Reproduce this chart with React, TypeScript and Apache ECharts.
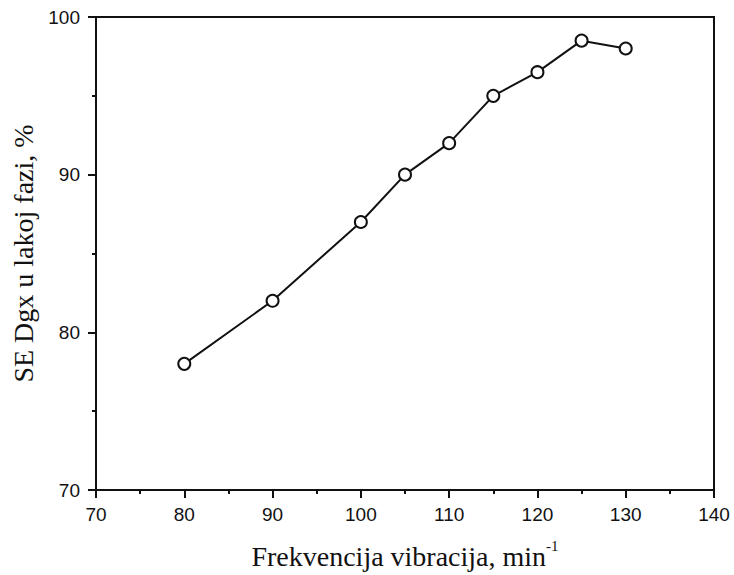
import React, { useEffect, useRef } from "react";
import * as echarts from "echarts";

const frequencies = [80, 90, 100, 105, 110, 115, 120, 125, 130];
const seValues = [78, 82, 87, 90, 92, 95, 96.5, 98.5, 98];
const xAxisTitle = "Frekvencija vibracija, min";
const xAxisSup = "-1";
const yAxisTitle = "SE Dgx u lakoj fazi, %";

export default function App() {
  const ref = useRef<HTMLDivElement>(null);
  useEffect(() => {
    if (!ref.current) return;
    const chart = echarts.init(ref.current, null, { renderer: "svg" });
    const axisColor = "#111";
    chart.setOption({
      animation: false,
      backgroundColor: "#fff",
      grid: {
        left: 96,
        top: 17,
        right: 20,
        bottom: 84,
        show: true,
        borderColor: axisColor,
        borderWidth: 2,
        backgroundColor: "transparent",
      },
      xAxis: {
        type: "value",
        min: 70,
        max: 140,
        interval: 10,
        name: `{main|${xAxisTitle}}{sup|${xAxisSup}}`,
        nameLocation: "middle",
        nameGap: 48,
        nameTextStyle: {
          rich: {
            main: { fontFamily: "Liberation Serif", fontSize: 28, color: "#111", lineHeight: 32, verticalAlign: "bottom" },
            sup: { fontFamily: "Liberation Serif", fontSize: 15, color: "#111", lineHeight: 32, verticalAlign: "top" },
          },
        },
        axisLine: { show: true, lineStyle: { color: axisColor, width: 2 } },
        axisTick: { show: true, inside: false, length: 8, lineStyle: { color: axisColor, width: 2 } },
        minorTick: { show: true, splitNumber: 2, length: 4, lineStyle: { color: axisColor, width: 2 } },
        axisLabel: { fontFamily: "Liberation Sans", fontSize: 19, color: "#111", margin: 15 },
        splitLine: { show: false },
      },
      yAxis: {
        type: "value",
        min: 70,
        max: 100,
        interval: 10,
        name: yAxisTitle,
        nameLocation: "middle",
        nameGap: 56,
        nameTextStyle: { fontFamily: "Liberation Serif", fontSize: 28, color: "#111" },
        axisLine: { show: true, lineStyle: { color: axisColor, width: 2 } },
        axisTick: { show: true, inside: false, length: 8, lineStyle: { color: axisColor, width: 2 } },
        minorTick: { show: true, splitNumber: 2, length: 4, lineStyle: { color: axisColor, width: 2 } },
        axisLabel: { fontFamily: "Liberation Sans", fontSize: 19, color: "#111", margin: 16 },
        splitLine: { show: false },
      },
      series: [
        {
          type: "line",
          data: frequencies.map((f, i) => [f, seValues[i]]),
          symbol: "circle",
          symbolSize: 12,
          lineStyle: { color: "#111", width: 2 },
          itemStyle: { color: "#fff", borderColor: "#111", borderWidth: 2 },
        },
      ],
    });
    return () => chart.dispose();
  }, []);
  return <div ref={ref} style={{ width: 734, height: 575, position: "absolute", left: 0, top: 0 }} />;
}
